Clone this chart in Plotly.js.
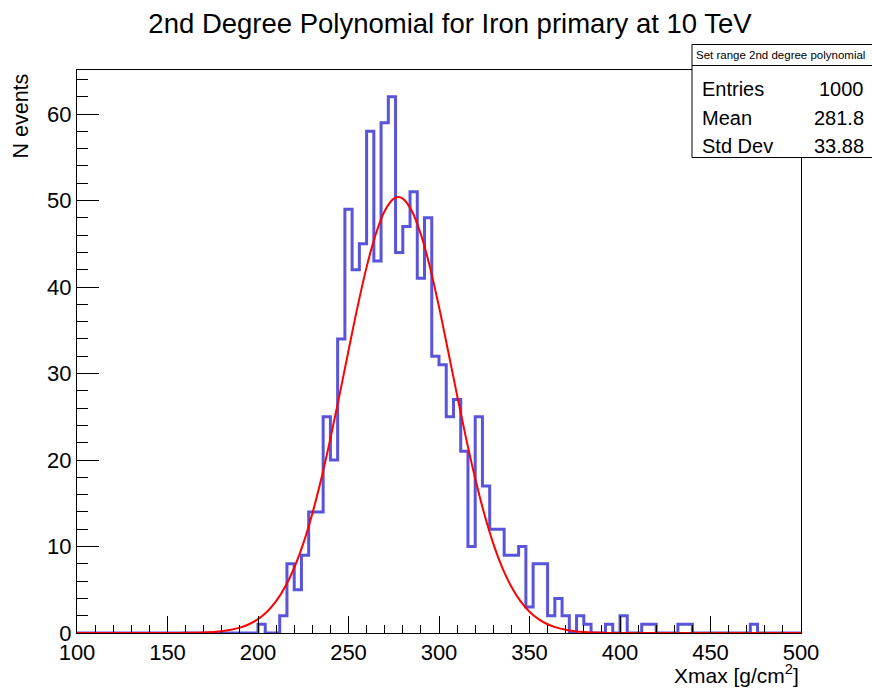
<!DOCTYPE html>
<html>
<head>
<meta charset="utf-8">
<script src="https://cdn.plot.ly/plotly-3.0.1.min.js"></script>
<style>html,body{margin:0;padding:0;background:#fff;}#chart{width:872px;height:688px;}</style>
</head>
<body>
<div id="chart"></div>
<script>
// Histogram: 100 bins of width 4 from 100 to 500
const binStart = 100;
const binWidth = 4;
const counts = [
  0,0,0,0,0,0,0,0,0,0,      // 100-136
  0,0,0,0,0,0,0,0,0,0,      // 140-176
  0,0,0,0,0,1,0,0,2,8,      // 180-216
  5,9,14,14,25,20,34,49,42,45, // 220-256
  58,43,59,62,44,47,51,41,48,32, // 260-296
  31,25,27,21,10,25,17,12,12,9,  // 300-336
  9,10,3,8,8,2,4,2,0,2,     // 340-376
  1,0,0,1,0,2,0,0,1,1,      // 380-416
  0,0,0,1,1,0,0,0,0,0,      // 420-456
  0,0,0,1,0,0,0,0,0,0       // 460-496
];

// Fitted curve
const fitX = [100,150,160,170,180,185,190,195,200,205,210,215,220,225,230,235,240,245,250,255,260,265,270,275,277.5,280,285,290,295,300,305,310,315,320,325,330,335,340,345,350,355,360,365,370,375,380,390,400,450,500];
const fitY = [0,0.004,0.018,0.066,0.21,0.37,0.62,1.01,1.6,2.46,3.68,5.35,7.54,10.34,13.79,17.86,22.47,27.47,32.64,37.7,42.3,46.07,48.8,50.22,50.4,50.22,48.8,46.07,42.3,37.7,32.64,27.47,22.47,17.86,13.79,10.34,7.54,5.35,3.68,2.46,1.6,1.01,0.62,0.37,0.21,0.12,0.03,0.005,0,0];

const statsTitle = "Set range 2nd degree polynomial";
const statsLabels = ["Entries", "Mean", "Std Dev"];
const statsValues = ["1000", "281.8", "33.88"];

const xTickVals = [100,150,200,250,300,350,400,450,500];
const yTickVals = [0,10,20,30,40,50,60];

// step outline through bin edges
const edges = counts.map((c, i) => binStart + i * binWidth);
edges.push(binStart + counts.length * binWidth);
const stepY = counts.slice();
stepY.push(counts[counts.length - 1]);

const FONT = "Liberation Sans, Arial, Helvetica, sans-serif";

const traces = [
  {
    x: edges, y: stepY, type: 'scatter', mode: 'lines',
    line: {shape: 'hv', color: '#5954d9', width: 3},
    hoverinfo: 'skip', showlegend: false
  },
  {
    x: fitX, y: fitY, type: 'scatter', mode: 'lines',
    line: {shape: 'spline', color: '#ff0000', width: 2},
    hoverinfo: 'skip', showlegend: false
  }
];

// Plot area geometry for paper coordinates of the stats box
const L = 77, R = 801, T = 70, B = 633;
const pw = R - L, ph = B - T;
const px = v => (v - L) / pw;
const py = v => (B - v) / ph;

const rowY = [88.5, 118, 146.5];
const annotations = [
  {text: 'Xmax [g/cm<sup>2</sup>]', xref: 'paper', yref: 'paper', x: 1, y: py(674), xanchor: 'right', yanchor: 'middle', showarrow: false, font: {family: FONT, size: 21, color: '#000'}},
  {text: 'N events', xref: 'paper', yref: 'paper', x: px(20), y: py(72), xanchor: 'center', yanchor: 'top', textangle: -90, showarrow: false, font: {family: FONT, size: 21.5, color: '#000'}},
  {text: statsTitle, xref: 'paper', yref: 'paper', x: px(694), y: py(55), xanchor: 'left', yanchor: 'middle', showarrow: false, font: {family: FONT, size: 11.5, color: '#000'}}
];
statsLabels.forEach((lab, i) => {
  annotations.push({text: lab, xref: 'paper', yref: 'paper', x: px(700), y: py(rowY[i]), xanchor: 'left', yanchor: 'middle', showarrow: false, font: {family: FONT, size: 20, color: '#000'}});
  annotations.push({text: statsValues[i], xref: 'paper', yref: 'paper', x: px(866), y: py(rowY[i]), xanchor: 'right', yanchor: 'middle', showarrow: false, font: {family: FONT, size: 20, color: '#000'}});
});

const shapes = [
  {type: 'rect', xref: 'paper', yref: 'paper', x0: px(692), x1: px(880), y0: py(157.5), y1: py(44.5), line: {color: '#000', width: 1}, fillcolor: '#fff', layer: 'above'},
  {type: 'line', xref: 'paper', yref: 'paper', x0: px(692), x1: px(880), y0: py(65.5), y1: py(65.5), line: {color: '#000', width: 1}, layer: 'above'}
];

const layout = {
  width: 872, height: 688,
  margin: {l: L, r: 872 - R, t: T, b: 688 - B, pad: 0},
  paper_bgcolor: '#fff', plot_bgcolor: '#fff',
  showlegend: false,
  title: {text: '2nd Degree Polynomial for Iron primary at 10 TeV', x: 450 / 872, xanchor: 'center', y: 1 - 23 / 688, yanchor: 'middle', xref: 'container', yref: 'container', font: {family: FONT, size: 27.5, color: '#000'}},
  xaxis: {
    range: [100, 500], tickmode: 'array', tickvals: xTickVals, ticktext: xTickVals.map(String),
    ticks: 'inside', ticklen: 17, tickwidth: 1, tickcolor: '#000',
    minor: {dtick: 10, ticks: 'inside', ticklen: 8, tickwidth: 1, tickcolor: '#000', showgrid: false},
    showline: true, linecolor: '#000', linewidth: 1, mirror: true,
    showgrid: false, zeroline: false,
    tickfont: {family: FONT, size: 22, color: '#000'}
  },
  yaxis: {
    range: [0, 65.09], tickmode: 'array', tickvals: yTickVals, ticktext: yTickVals.map(String),
    ticks: 'inside', ticklen: 22, tickwidth: 1, tickcolor: '#000',
    minor: {dtick: 2, ticks: 'inside', ticklen: 11, tickwidth: 1, tickcolor: '#000', showgrid: false},
    showline: true, linecolor: '#000', linewidth: 1, mirror: true,
    showgrid: false, zeroline: false,
    tickfont: {family: FONT, size: 22, color: '#000'}
  },
  annotations: annotations,
  shapes: shapes
};

Plotly.newPlot('chart', traces, layout, {staticPlot: true, displayModeBar: false});
</script>
</body>
</html>
